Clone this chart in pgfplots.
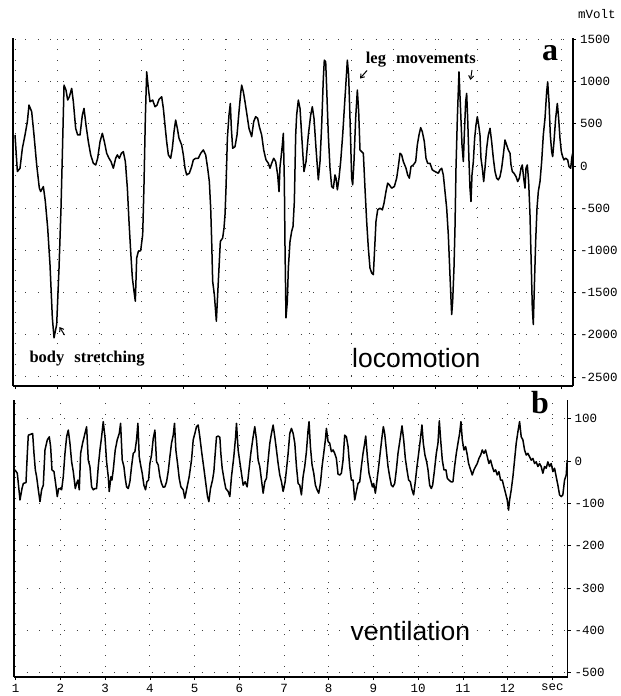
\documentclass[border=0pt]{standalone}
\usepackage{fontspec}
\setmainfont{Liberation Serif}
\setmonofont{Liberation Mono}
\newfontfamily\sansf{Liberation Sans}
\usepackage{pgfplots}
\usepackage{pgfplotstable}
\pgfplotsset{compat=1.18}
\usetikzlibrary{arrows.meta}

\pgfplotstableread{
u mv
0.000 367
0.056 -66
0.119 -27
0.175 209
0.238 367
0.294 525
0.333 722
0.397 643
0.452 367
0.516 12
0.579 -263
0.611 -303
0.675 -244
0.722 -421
0.778 -736
0.833 -1170
0.889 -1800
0.929 -2036
0.992 -1879
1.048 -1209
1.095 -500
1.127 131
1.167 958
1.214 899
1.254 781
1.294 820
1.349 919
1.389 761
1.444 446
1.492 367
1.548 367
1.603 603
1.643 682
1.690 485
1.746 288
1.802 131
1.865 32
1.921 12
1.968 91
2.024 288
2.079 387
2.127 288
2.183 150
2.238 91
2.286 52
2.341 -27
2.397 91
2.437 131
2.484 91
2.532 150
2.579 170
2.627 52
2.675 -263
2.714 -657
2.754 -1012
2.794 -1327
2.833 -1485
2.865 -1603
2.897 -1091
2.937 -1012
2.992 -1004
3.040 -815
3.071 -224
3.103 564
3.135 1116
3.175 919
3.214 761
3.278 781
3.333 702
3.380 720
3.430 790
3.492 820
3.532 682
3.571 485
3.611 288
3.651 131
3.706 91
3.746 209
3.786 406
3.825 544
3.865 446
3.905 328
3.968 249
4.008 131
4.048 -27
4.087 -106
4.151 -86
4.206 -7
4.246 72
4.302 91
4.365 91
4.421 150
4.484 190
4.540 131
4.587 -27
4.627 -185
4.659 -500
4.683 -894
4.706 -1367
4.746 -1524
4.770 -1682
4.794 -1839
4.825 -1524
4.857 -1209
4.889 -894
4.944 -854
4.976 -736
5.000 -579
5.024 -263
5.056 328
5.095 603
5.127 741
5.151 446
5.183 209
5.238 229
5.286 367
5.333 643
5.373 860
5.397 958
5.437 879
5.476 761
5.524 603
5.571 446
5.635 347
5.683 525
5.730 584
5.778 564
5.817 466
5.873 367
5.921 190
5.976 72
6.032 32
6.071 -27
6.111 32
6.159 91
6.206 52
6.254 -106
6.286 -303
6.310 -7
6.333 91
6.365 249
6.389 387
6.413 -185
6.429 -973
6.452 -1800
6.484 -1603
6.508 -1209
6.548 -894
6.587 -776
6.619 -717
6.651 -421
6.683 367
6.706 603
6.746 781
6.786 682
6.825 367
6.865 52
6.881 -66
6.929 52
6.984 367
7.040 603
7.079 702
7.119 564
7.167 209
7.222 -165
7.262 52
7.302 485
7.341 1037
7.365 1254
7.397 1234
7.421 919
7.460 367
7.500 -27
7.540 -244
7.579 -263
7.619 -106
7.643 -145
7.675 -283
7.714 -145
7.754 52
7.802 367
7.841 682
7.881 997
7.913 1254
7.944 1076
7.976 564
8.016 -145
8.040 -224
8.071 52
8.111 564
8.151 899
8.183 643
8.214 190
8.254 170
8.294 150
8.333 -263
8.373 -657
8.413 -973
8.452 -1209
8.492 -1268
8.532 -1288
8.556 -1051
8.595 -657
8.635 -520
8.690 -500
8.746 -520
8.786 -441
8.833 -303
8.873 -204
8.913 -224
8.968 -263
9.032 -244
9.087 -145
9.127 -7
9.167 150
9.206 131
9.246 52
9.310 -27
9.349 -106
9.389 -145
9.429 -7
9.484 12
9.540 52
9.579 249
9.619 367
9.659 454
9.698 406
9.746 288
9.786 91
9.825 32
9.881 32
9.937 -47
10.000 -66
10.079 -86
10.119 -47
10.159 -27
10.198 -106
10.238 -303
10.278 -500
10.317 -815
10.357 -1300
10.373 -1485
10.397 -1761
10.421 -1603
10.452 -1209
10.476 -736
10.500 -27
10.532 564
10.571 1116
10.611 643
10.643 249
10.675 52
10.698 367
10.730 761
10.754 860
10.778 564
10.810 52
10.833 -263
10.857 -421
10.881 -106
10.913 52
10.944 328
10.976 485
11.008 584
11.040 485
11.071 367
11.095 91
11.127 -27
11.159 -185
11.190 -27
11.230 209
11.270 367
11.310 446
11.349 288
11.389 91
11.429 -66
11.468 -145
11.508 -165
11.548 -126
11.587 -27
11.627 131
11.667 308
11.706 249
11.746 190
11.786 150
11.810 12
11.841 -66
11.881 -86
11.929 -126
11.968 -185
12.008 -145
12.048 -27
12.079 12
12.103 -106
12.143 -263
12.167 -27
12.198 12
12.230 -185
12.262 -579
12.294 -1209
12.317 -1682
12.341 -1879
12.365 -1445
12.397 -894
12.429 -500
12.460 -303
12.500 -185
12.540 52
12.579 367
12.619 564
12.659 879
12.683 997
12.714 761
12.746 367
12.778 170
12.802 111
12.833 288
12.873 564
12.913 741
12.944 564
12.976 328
13.008 170
13.040 111
13.071 72
13.111 91
13.159 72
13.190 -7
13.230 -27
13.262 111
13.278 150
}\loco

\pgfplotstableread{
t v
0.983 -21
1.035 -29
1.095 -92
1.140 -65
1.170 -53
1.229 -51
1.259 18
1.281 61
1.333 63
1.378 65
1.408 18
1.438 -21
1.467 -37
1.505 -68
1.542 -96
1.579 -68
1.616 -57
1.654 26
1.706 50
1.750 57
1.780 34
1.810 -21
1.855 -25
1.892 -53
1.929 -84
1.959 -65
1.989 -65
2.026 -68
2.063 -37
2.101 18
2.138 57
2.175 73
2.212 42
2.250 -2
2.287 -25
2.332 -65
2.361 -53
2.391 -45
2.421 -68
2.451 18
2.495 42
2.548 65
2.585 81
2.622 2
2.659 -13
2.697 -61
2.734 -68
2.771 -65
2.808 -65
2.846 -13
2.883 26
2.920 57
2.957 93
2.995 57
3.032 -2
3.069 -37
3.091 -72
3.129 -37
3.151 -45
3.181 -21
3.225 26
3.270 50
3.315 65
3.345 89
3.382 2
3.419 -13
3.449 -41
3.479 -61
3.516 -65
3.553 -49
3.590 -13
3.628 18
3.665 22
3.702 50
3.732 89
3.762 10
3.799 -13
3.829 -29
3.866 -57
3.903 -68
3.933 -49
3.970 -45
4.000 -6
4.037 14
4.075 53
4.112 73
4.149 -2
4.186 -9
4.224 -37
4.261 -53
4.298 -62
4.335 -61
4.373 -49
4.410 -25
4.447 10
4.484 42
4.522 61
4.551 89
4.581 26
4.619 -6
4.656 -41
4.693 -61
4.745 -68
4.782 -88
4.820 -68
4.879 -37
4.931 2
4.969 50
5.006 65
5.043 81
5.080 85
5.117 57
5.162 18
5.207 -17
5.251 -53
5.289 -84
5.319 -96
5.356 -65
5.401 -45
5.431 -25
5.461 18
5.490 57
5.527 59
5.565 56
5.587 18
5.617 -17
5.661 -45
5.698 -65
5.751 -72
5.788 -84
5.825 -37
5.877 10
5.914 53
5.937 89
5.974 26
6.011 -2
6.048 -29
6.086 -57
6.130 -49
6.175 -61
6.212 -25
6.257 18
6.309 57
6.346 81
6.384 50
6.421 2
6.458 -13
6.496 -45
6.533 -76
6.570 -49
6.607 -41
6.645 2
6.682 42
6.719 65
6.756 85
6.794 57
6.831 26
6.868 -6
6.905 -33
6.943 -49
6.980 -72
7.025 -49
7.054 -21
7.092 18
7.129 65
7.166 77
7.204 65
7.241 42
7.278 -13
7.315 -53
7.352 -57
7.389 -80
7.426 -37
7.463 -13
7.501 22
7.538 73
7.560 93
7.590 34
7.627 -9
7.665 -29
7.702 -57
7.739 -68
7.776 -76
7.814 -53
7.851 -13
7.888 18
7.925 50
7.948 77
7.985 46
8.022 42
8.059 22
8.097 26
8.134 18
8.171 6
8.208 -31
8.246 -33
8.283 -29
8.320 2
8.357 61
8.395 57
8.432 34
8.469 -13
8.506 -45
8.544 -45
8.581 -92
8.618 -72
8.655 -53
8.693 -49
8.730 -13
8.767 18
8.804 42
8.827 59
8.864 10
8.901 -29
8.938 -45
8.976 -61
9.005 -53
9.043 -76
9.080 -45
9.117 -13
9.154 22
9.192 57
9.221 81
9.251 65
9.288 26
9.326 -13
9.363 -37
9.400 -57
9.437 -61
9.475 -53
9.512 -21
9.549 18
9.594 50
9.639 83
9.676 50
9.713 6
9.750 -21
9.787 -45
9.825 -49
9.862 -68
9.899 -80
9.936 -49
9.974 -13
10.011 18
10.048 50
10.085 85
10.115 42
10.152 14
10.190 -2
10.220 -21
10.257 -57
10.294 -65
10.324 -57
10.361 -25
10.406 18
10.443 42
10.473 95
10.503 50
10.540 2
10.577 -21
10.622 -21
10.652 -41
10.689 -45
10.733 -49
10.778 -49
10.815 -13
10.853 18
10.890 42
10.927 65
10.957 93
10.987 50
11.024 26
11.061 34
11.099 14
11.128 -6
11.173 -21
11.210 -33
11.248 -21
11.285 -13
11.322 -6
11.359 6
11.397 14
11.434 26
11.471 18
11.508 26
11.546 10
11.583 -6
11.620 2
11.657 -13
11.694 -25
11.732 -21
11.769 -33
11.806 -25
11.843 -45
11.881 -45
11.918 -61
11.955 -76
11.992 -92
12.022 -116
12.045 -92
12.082 -68
12.119 -37
12.156 2
12.193 42
12.231 69
12.268 93
12.305 57
12.342 50
12.380 26
12.417 14
12.454 18
12.491 10
12.529 2
12.566 6
12.603 -6
12.640 -2
12.678 -13
12.715 -6
12.752 -13
12.789 -29
12.827 -13
12.864 -17
12.901 -2
12.938 -13
12.976 -6
13.013 -25
13.050 -17
13.087 -37
13.125 -57
13.162 -80
13.199 -84
13.236 -80
13.274 -45
13.311 -33
13.333 2
}\vent

\pgfplotsset{
  panel/.style={
    scale only axis, clip=false,
    axis line style={draw=none},
    grid=major,
    x grid style={black!75, line width=0.9pt, dash pattern=on 0.9pt off 9.6pt},
    y grid style={black!75, line width=0.9pt, dash pattern=on 0.9pt off 11.6pt},
    tick align=outside, major tick length=3pt,
    tick style={black, line width=0.7pt},
    ytick pos=right, yticklabel pos=right, xtick pos=bottom,
    tick label style={font=\ttfamily\fontsize{12.5}{13}\selectfont},
    yticklabel style={anchor=west, inner sep=0pt, xshift=4pt},
  },
  trace/.style={black, line width=1.5pt, line join=round, no marks},
}

\begin{document}
\begin{tikzpicture}
\useasboundingbox (0pt,0pt) rectangle (621pt,-696pt);

\begin{axis}[panel,
  at={(13pt,-37.7pt)}, anchor=north west,
  width=560pt, height=348.5pt,
  xmin=-0.048, xmax=13.286, ymin=-2610, ymax=1520,
  xtick={0,...,13}, xticklabels={},
  ytick={-2500,-2000,-1500,-1000,-500,0,500,1000,1500},
  yticklabels={-2500,-2000,-1500,-1000,-500,0,500,1000,1500},
]
\addplot[trace] table[x=u, y=mv] {\loco};
\draw[line width=2.6pt] (rel axis cs:0,0) -- (rel axis cs:0,1);
\draw[line width=2pt] (rel axis cs:0,0) -- (rel axis cs:1,0);
\draw[line width=1.3pt] (rel axis cs:1,0) -- (rel axis cs:1,1);
\end{axis}

\begin{axis}[panel,
  at={(14pt,-400pt)}, anchor=north west,
  width=553.5pt, height=277pt,
  xmin=0.961, xmax=13.34, ymin=-510, ymax=144,
  xtick={1,...,13},
  xticklabels={1,2,3,4,5,6,7,8,9,10,11,12,sec},
  xticklabel style={anchor=north, inner sep=0pt, yshift=-4pt},
  ytick={-500,-400,-300,-200,-100,0,100},
  yticklabels={-500,-400,-300,-200,-100,0,100},
]
\addplot[trace] table[x=t, y=v] {\vent};
\draw[line width=2.4pt] (rel axis cs:0,0) -- (rel axis cs:0,1);
\draw[line width=1.6pt] (rel axis cs:0,0) -- (rel axis cs:1,0);
\draw[line width=1.3pt] (rel axis cs:1,0) -- (rel axis cs:1,1);
\end{axis}

% annotations
\node[anchor=base west, inner sep=0pt, font=\ttfamily\fontsize{12.5}{13}\selectfont] at (578pt,-19pt) {mVolt};
\node[anchor=base, inner sep=0pt, font=\bfseries\fontsize{32}{32}\selectfont] at (550pt,-60.5pt) {a};
\node[anchor=base, inner sep=0pt, font=\bfseries\fontsize{32}{32}\selectfont] at (540pt,-413pt) {b};
\node[anchor=base west, inner sep=0pt, font=\bfseries\fontsize{16.5}{17}\selectfont] at (365.7pt,-63.3pt) {leg\hspace{10pt}movements};
\node[anchor=base west, inner sep=0pt, font=\bfseries\fontsize{16.5}{17}\selectfont] at (29.3pt,-362.5pt) {body\hspace{10pt}stretching};
\node[anchor=base west, inner sep=0pt, font=\sansf\fontsize{26.5}{27}\selectfont] at (352pt,-367.3pt) {locomotion};
\node[anchor=base west, inner sep=0pt, font=\sansf\fontsize{26.5}{27}\selectfont] at (350.5pt,-640pt) {ventilation};
\draw[line width=1pt, -{Straight Barb[length=3.5pt,width=5pt]}] (367pt,-70.5pt) -- (360pt,-78.5pt);
\draw[line width=1pt, -{Straight Barb[length=3.5pt,width=5pt]}] (472pt,-70pt) -- (470.5pt,-80pt);
\draw[line width=1pt, -{Straight Barb[length=3.5pt,width=5pt]}] (64.5pt,-335pt) -- (59.5pt,-327pt);
\end{tikzpicture}
\end{document}
